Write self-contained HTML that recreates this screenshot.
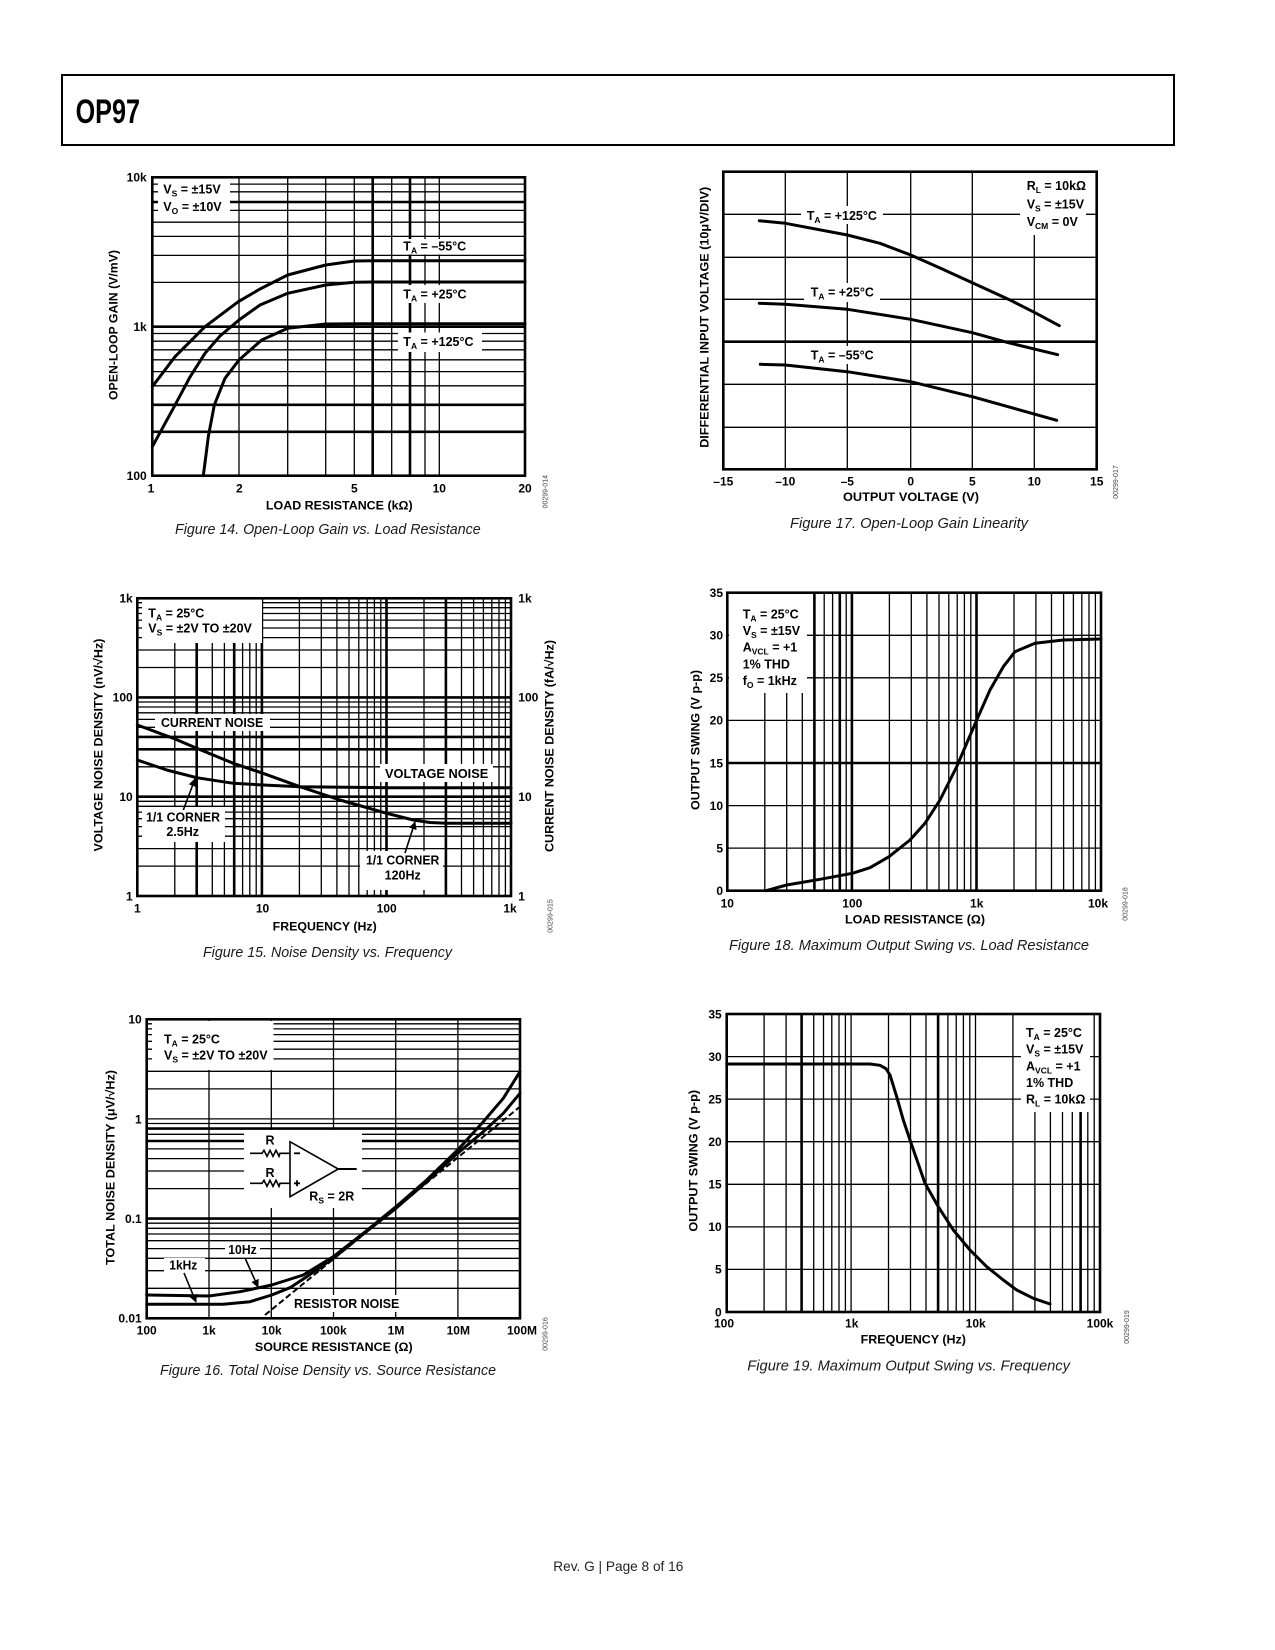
<!DOCTYPE html>
<html><head><meta charset="utf-8"><title>OP97</title>
<style>
html,body{margin:0;padding:0;background:#fff;}
svg{display:block;}
.t{font-family:"Liberation Sans",Arial,sans-serif;font-weight:bold;font-size:12px;fill:#000;}
.l{font-family:"Liberation Sans",Arial,sans-serif;font-weight:bold;font-size:12.5px;fill:#000;}
.cap{font-family:"Liberation Sans",Arial,sans-serif;font-style:italic;font-size:15px;fill:#1a1a1a;}
.id{font-family:"Liberation Sans",Arial,sans-serif;font-size:7px;fill:#444;}
.g{stroke:#000;stroke-width:1.3;fill:none;}
.gk{stroke:#000;stroke-width:2.6;fill:none;}
.fr{stroke:#000;stroke-width:2.6;fill:none;}
.cv{stroke:#000;stroke-width:3;fill:none;stroke-linejoin:round;stroke-linecap:round;}
.wb{fill:#fff;stroke:none;}
</style></head>
<body>
<svg width="1275" height="1650" viewBox="0 0 1275 1650" xmlns="http://www.w3.org/2000/svg">
<defs>
<marker id="ah" viewBox="0 0 10 10" refX="9" refY="5" markerWidth="5" markerHeight="5" orient="auto-start-reverse">
<path d="M0,0 L10,5 L0,10 z" fill="#000"/>
</marker>
</defs>
<rect x="0" y="0" width="1275" height="1650" fill="#fff"/>

<!-- HEADER -->
<rect x="62" y="75" width="1112" height="70" fill="none" stroke="#000" stroke-width="2"/>
<text x="75.6" y="123" font-family="'Liberation Sans Narrow','Liberation Sans',sans-serif" font-weight="bold" font-size="34" textLength="64.4" lengthAdjust="spacingAndGlyphs">OP97</text>

<!-- ================= FIG 14 ================= -->
<path class="g" d="M239,177V476 M287.7,177V476 M325.7,177V476 M354.3,177V476 M391.7,177V476 M425,177V476 M439.3,177V476
M152,184.1H525 M152,191.8H525 M152,210.4H525 M152,222.2H525 M152,236.4H525 M152,255.4H525 M152,282.4H525 M152,333.5H525 M152,341.2H525 M152,349.8H525 M152,359.8H525 M152,371.6H525 M152,385.8H525"/>
<path class="gk" d="M372.7,177V476 M410,177V476 M152,202H525 M152,326.7H525 M152,404.8H525 M152,431.8H525"/>
<rect class="wb" x="158" y="178.5" width="72" height="35.5"/>
<rect class="wb" x="398" y="239" width="76" height="15.5"/>
<rect class="wb" x="398" y="285" width="76" height="18"/>
<rect class="wb" x="398" y="332.5" width="84" height="19.5"/>
<path class="cv" d="M152.3,386.7 L175,356.7 L205,326.7 L238.3,301.7 L260,289 L287.7,275 L325.7,265 L354.3,261 L372.7,260.7 L525,260.7"/>
<path class="cv" d="M152.3,446.7 L173.3,408.3 L190,377 L205,353.3 L220,336 L239,320 L260,305 L287.7,293.3 L325.7,285 L354.3,282.3 L372.7,282 L525,282"/>
<path class="cv" d="M203.3,475.7 L206,455 L208.3,436.7 L214.3,405 L225,378.3 L239,360 L261.7,340 L287.7,328.3 L325.7,324 L360,323.7 L525,323.7"/>
<rect class="fr" x="152.3" y="177.3" width="372.7" height="298.4"/>
<text class="l" x="163.3" y="193.5">V<tspan font-size="8.5" dy="3">S</tspan><tspan dy="-3"> = ±15V</tspan></text>
<text class="l" x="163.3" y="211">V<tspan font-size="8.5" dy="3">O</tspan><tspan dy="-3"> = ±10V</tspan></text>
<text class="l" x="403.3" y="250.5">T<tspan font-size="8.5" dy="3">A</tspan><tspan dy="-3"> = –55°C</tspan></text>
<text class="l" x="403.3" y="298.3">T<tspan font-size="8.5" dy="3">A</tspan><tspan dy="-3"> = +25°C</tspan></text>
<text class="l" x="403.3" y="346">T<tspan font-size="8.5" dy="3">A</tspan><tspan dy="-3"> = +125°C</tspan></text>
<text class="t" x="146.7" y="181.5" text-anchor="end">10k</text>
<text class="t" x="146.7" y="331" text-anchor="end">1k</text>
<text class="t" x="146.7" y="480" text-anchor="end">100</text>
<text class="t" x="151" y="492.5" text-anchor="middle">1</text>
<text class="t" x="239.3" y="492.5" text-anchor="middle">2</text>
<text class="t" x="354.3" y="492.5" text-anchor="middle">5</text>
<text class="t" x="439.3" y="492.5" text-anchor="middle">10</text>
<text class="t" x="525" y="492.5" text-anchor="middle">20</text>
<text class="t" x="339.3" y="509.3" text-anchor="middle" textLength="146.7" lengthAdjust="spacingAndGlyphs">LOAD RESISTANCE (kΩ)</text>
<text class="t" transform="translate(117.6,325) rotate(-90)" text-anchor="middle" textLength="150" lengthAdjust="spacingAndGlyphs">OPEN-LOOP GAIN (V/mV)</text>
<text class="cap" x="175" y="534" textLength="305.7" lengthAdjust="spacingAndGlyphs">Figure 14. Open-Loop Gain vs. Load Resistance</text>
<text class="id" transform="translate(547.5,491.7) rotate(-90)" text-anchor="middle">00299-014</text>

<!-- ================= FIG 17 ================= -->
<path class="g" stroke-width="1.5" d="M785.3,171.7V469.3 M847.3,171.7V469.3 M910.7,171.7V469.3 M972.3,171.7V469.3 M1034.3,171.7V469.3
M723.3,214.3H1096.7 M723.3,257.3H1096.7 M723.3,299.3H1096.7 M723.3,384.3H1096.7 M723.3,427.3H1096.7"/>
<path class="gk" d="M723.3,341.7H1096.7"/>
<rect class="wb" x="801" y="206" width="82" height="18"/>
<rect class="wb" x="804" y="283" width="76" height="19"/>
<rect class="wb" x="804" y="346" width="76" height="18"/>
<rect class="wb" x="1020" y="173" width="66" height="62"/>
<path class="cv" d="M759.3,220.7 L785.3,223.3 L847.3,235 L880,243.3 L910.7,255 L940,268 L972.3,282.7 L1010,300 L1035,312.7 L1059.3,325.7"/>
<path class="cv" d="M759.3,303.3 L785.3,304.3 L847.3,309.3 L910.7,319.3 L972.3,332.7 L1008.3,342.7 L1057.7,354.7"/>
<path class="cv" d="M760.3,364.3 L785.3,365 L847.3,371.7 L910.7,381.7 L972.3,396.7 L1056.7,420.3"/>
<rect class="fr" x="723.3" y="171.7" width="373.4" height="297.6"/>
<text class="l" x="806.7" y="220">T<tspan font-size="8.5" dy="3">A</tspan><tspan dy="-3"> = +125°C</tspan></text>
<text class="l" x="810.7" y="296.7">T<tspan font-size="8.5" dy="3">A</tspan><tspan dy="-3"> = +25°C</tspan></text>
<text class="l" x="810.7" y="359.3">T<tspan font-size="8.5" dy="3">A</tspan><tspan dy="-3"> = –55°C</tspan></text>
<text class="l" x="1026.7" y="190">R<tspan font-size="8.5" dy="3">L</tspan><tspan dy="-3"> = 10kΩ</tspan></text>
<text class="l" x="1026.7" y="208.3">V<tspan font-size="8.5" dy="3">S</tspan><tspan dy="-3"> = ±15V</tspan></text>
<text class="l" x="1026.7" y="226">V<tspan font-size="8.5" dy="3">CM</tspan><tspan dy="-3"> = 0V</tspan></text>
<text class="t" x="723.3" y="485.3" text-anchor="middle">–15</text>
<text class="t" x="785.3" y="485.3" text-anchor="middle">–10</text>
<text class="t" x="847.3" y="485.3" text-anchor="middle">–5</text>
<text class="t" x="910.7" y="485.3" text-anchor="middle">0</text>
<text class="t" x="972.3" y="485.3" text-anchor="middle">5</text>
<text class="t" x="1034.3" y="485.3" text-anchor="middle">10</text>
<text class="t" x="1096.7" y="485.3" text-anchor="middle">15</text>
<text class="t" x="911" y="501" text-anchor="middle" textLength="136" lengthAdjust="spacingAndGlyphs">OUTPUT VOLTAGE (V)</text>
<text class="t" transform="translate(708.6,317.3) rotate(-90)" text-anchor="middle" textLength="261" lengthAdjust="spacingAndGlyphs">DIFFERENTIAL INPUT VOLTAGE (10μV/DIV)</text>
<text class="cap" x="790" y="528" textLength="238" lengthAdjust="spacingAndGlyphs">Figure 17. Open-Loop Gain Linearity</text>
<text class="id" transform="translate(1118.2,482) rotate(-90)" text-anchor="middle">00299-017</text>

<!-- ================= FIG 15 ================= -->
<path class="g" d="M174.8,598V896 M212.3,598V896 M224.4,598V896 M242.6,598V896 M249.8,598V896 M256.2,598V896
M299.4,598V896 M321.3,598V896 M336.9,598V896 M349,598V896 M358.8,598V896 M367.2,598V896 M374.4,598V896 M380.8,598V896
M424,598V896 M461.5,598V896 M473.6,598V896 M483.4,598V896 M491.8,598V896 M499,598V896 M505.4,598V896
M137,866.1H511 M137,848.6H511 M137,836.2H511 M137,826.6H511 M137,818.7H511 M137,812.1H511 M137,806.3H511 M137,801.3H511
M137,766.8H511 M137,727.3H511 M137,719.4H511 M137,712.8H511 M137,707H511 M137,702H511
M137,667.5H511 M137,650H511 M137,637.6H511 M137,628H511 M137,620.1H511 M137,613.5H511 M137,607.7H511 M137,602.7H511"/>
<path class="gk" d="M196.7,598V896 M234.2,598V896 M261.9,598V896 M386.5,598V896 M445.9,598V896
M137,796.7H511 M137,749.3H511 M137,736.9H511 M137,697.4H511"/>
<rect class="wb" x="142" y="599.5" width="120" height="43.5"/>
<rect class="wb" x="155" y="714" width="115" height="17"/>
<rect class="wb" x="380" y="764" width="113" height="18"/>
<rect class="wb" x="142" y="807" width="83" height="35"/>
<rect class="wb" x="360" y="851" width="83" height="39"/>
<path class="cv" d="M137.3,725 L173.3,738.3 L196.7,748.3 L233.3,763.3 L263,773.3 L300,786.7 L340,800 L386.7,813.3 L413.3,820 L430,822.5 L446.7,823.3 L511,823.3"/>
<path class="cv" d="M137.3,760 L166.7,770 L196.7,777.7 L233.3,783.3 L263,785 L300,786.7 L386.7,787.7 L511,787.7"/>
<line x1="183.3" y1="810" x2="195" y2="779" stroke="#000" stroke-width="1.6" marker-end="url(#ah)"/>
<line x1="405" y1="853" x2="415" y2="822" stroke="#000" stroke-width="1.6" marker-end="url(#ah)"/>
<rect class="fr" x="137.3" y="598.3" width="373.7" height="297.7"/>
<text class="l" x="148.3" y="617.7">T<tspan font-size="8.5" dy="3">A</tspan><tspan dy="-3"> = 25°C</tspan></text>
<text class="l" x="148.3" y="632.7">V<tspan font-size="8.5" dy="3">S</tspan><tspan dy="-3"> = ±2V TO ±20V</tspan></text>
<text class="l" x="161" y="727" textLength="102.3" lengthAdjust="spacingAndGlyphs">CURRENT NOISE</text>
<text class="l" x="385" y="778" textLength="103.3" lengthAdjust="spacingAndGlyphs">VOLTAGE NOISE</text>
<text class="l" x="146" y="821.3" textLength="74" lengthAdjust="spacingAndGlyphs">1/1 CORNER</text>
<text class="l" x="182.7" y="836" text-anchor="middle">2.5Hz</text>
<text class="l" x="366" y="864.3" textLength="73.3" lengthAdjust="spacingAndGlyphs">1/1 CORNER</text>
<text class="l" x="402.7" y="879.3" text-anchor="middle">120Hz</text>
<text class="t" x="132.7" y="602.6" text-anchor="end">1k</text>
<text class="t" x="132.7" y="701.7" text-anchor="end">100</text>
<text class="t" x="132.7" y="801" text-anchor="end">10</text>
<text class="t" x="132.7" y="900.3" text-anchor="end">1</text>
<text class="t" x="518.3" y="602.6">1k</text>
<text class="t" x="518.3" y="701.7">100</text>
<text class="t" x="518.3" y="801">10</text>
<text class="t" x="518.3" y="900.3">1</text>
<text class="t" x="137.3" y="912.3" text-anchor="middle">1</text>
<text class="t" x="262.5" y="912.3" text-anchor="middle">10</text>
<text class="t" x="386.7" y="912.3" text-anchor="middle">100</text>
<text class="t" x="510" y="912.3" text-anchor="middle">1k</text>
<text class="t" x="324.7" y="930.3" text-anchor="middle" textLength="104" lengthAdjust="spacingAndGlyphs">FREQUENCY (Hz)</text>
<text class="t" transform="translate(102.6,745) rotate(-90)" text-anchor="middle" textLength="213" lengthAdjust="spacingAndGlyphs">VOLTAGE NOISE DENSITY (nV/√Hz)</text>
<text class="t" transform="translate(553.6,746) rotate(-90)" text-anchor="middle" textLength="212" lengthAdjust="spacingAndGlyphs">CURRENT NOISE DENSITY (fA/√Hz)</text>
<text class="cap" x="203" y="957" textLength="249" lengthAdjust="spacingAndGlyphs">Figure 15. Noise Density vs. Frequency</text>
<text class="id" transform="translate(552.5,916) rotate(-90)" text-anchor="middle">00299-015</text>

<!-- ================= FIG 18 ================= -->
<path class="g" d="M727.3,848.1H1101 M727.3,805.6H1101 M727.3,720.4H1101 M727.3,677.8H1101 M727.3,635.3H1101
M786.7,592.7V890.7 M802.3,592.7V890.7 M824.2,592.7V890.7 M832.6,592.7V890.7 M846.2,592.7V890.7
M889.4,592.7V890.7 M911.3,592.7V890.7 M926.9,592.7V890.7 M939,592.7V890.7 M948.8,592.7V890.7 M957.2,592.7V890.7 M964.4,592.7V890.7 M970.8,592.7V890.7
M1014,592.7V890.7 M1035.9,592.7V890.7 M1051.5,592.7V890.7 M1063.6,592.7V890.7 M1073.4,592.7V890.7 M1081.8,592.7V890.7 M1089,592.7V890.7 M1095.4,592.7V890.7"/>
<path class="g" stroke-width="1.9" d="M764.8,592.7V890.7"/>
<path class="gk" d="M727.3,763H1101 M814.4,592.7V890.7 M839.8,592.7V890.7 M851.9,592.7V890.7 M976.5,592.7V890.7"/>
<rect class="wb" x="729" y="594" width="78" height="99"/>
<path class="cv" d="M766,890.7 L786.7,885 L820,879.3 L852.3,873.3 L870,867.7 L889,856.7 L910,840 L925,823.3 L940,800 L956.7,766.7 L976.7,720 L990,690 L1003.3,666.7 L1015,651.7 L1035,643.3 L1063.3,640 L1101,639"/>
<rect class="fr" x="727.3" y="592.7" width="373.7" height="298"/>
<text class="l" x="742.7" y="618.3">T<tspan font-size="8.5" dy="3">A</tspan><tspan dy="-3"> = 25°C</tspan></text>
<text class="l" x="742.7" y="635">V<tspan font-size="8.5" dy="3">S</tspan><tspan dy="-3"> = ±15V</tspan></text>
<text class="l" x="742.7" y="651.7">A<tspan font-size="8.5" dy="3">VCL</tspan><tspan dy="-3"> = +1</tspan></text>
<text class="l" x="742.7" y="668.3">1% THD</text>
<text class="l" x="742.7" y="685">f<tspan font-size="8.5" dy="3">O</tspan><tspan dy="-3"> = 1kHz</tspan></text>
<text class="t" x="723" y="597" text-anchor="end">35</text>
<text class="t" x="723" y="639.6" text-anchor="end">30</text>
<text class="t" x="723" y="682.1" text-anchor="end">25</text>
<text class="t" x="723" y="724.7" text-anchor="end">20</text>
<text class="t" x="723" y="767.3" text-anchor="end">15</text>
<text class="t" x="723" y="809.9" text-anchor="end">10</text>
<text class="t" x="723" y="852.4" text-anchor="end">5</text>
<text class="t" x="723" y="895" text-anchor="end">0</text>
<text class="t" x="727.3" y="907.6" text-anchor="middle">10</text>
<text class="t" x="852.3" y="907.6" text-anchor="middle">100</text>
<text class="t" x="976.7" y="907.6" text-anchor="middle">1k</text>
<text class="t" x="1098" y="907.6" text-anchor="middle">10k</text>
<text class="t" x="915" y="923.3" text-anchor="middle" textLength="140" lengthAdjust="spacingAndGlyphs">LOAD RESISTANCE (Ω)</text>
<text class="t" transform="translate(699.3,740) rotate(-90)" text-anchor="middle" textLength="140" lengthAdjust="spacingAndGlyphs">OUTPUT SWING (V p-p)</text>
<text class="cap" x="729" y="950" textLength="360" lengthAdjust="spacingAndGlyphs">Figure 18. Maximum Output Swing vs. Load Resistance</text>
<text class="id" transform="translate(1127.5,904) rotate(-90)" text-anchor="middle">00299-018</text>

<!-- ================= FIG 16 ================= -->
<path class="g" d="M209,1019.3V1318.3 M271.3,1019.3V1318.3 M333.5,1019.3V1318.3 M395.7,1019.3V1318.3 M457.9,1019.3V1318.3
M146.7,1288.3H520 M146.7,1270.7H520 M146.7,1258.3H520 M146.7,1248.6H520 M146.7,1240.7H520 M146.7,1234H520 M146.7,1228.3H520 M146.7,1223.2H520
M146.7,1188.6H520 M146.7,1171H520 M146.7,1158.6H520 M146.7,1148.9H520 M146.7,1134.3H520 M146.7,1123.5H520 M146.7,1118.9H520
M146.7,1088.9H520 M146.7,1071.3H520 M146.7,1058.9H520 M146.7,1049.2H520 M146.7,1041.3H520 M146.7,1034.6H520 M146.7,1028.9H520 M146.7,1023.8H520"/>
<path class="gk" d="M146.7,1218.6H520 M146.7,1141H520 M146.7,1128.6H520"/>
<rect class="wb" x="152" y="1021" width="121.5" height="49"/>
<rect class="wb" x="244" y="1130" width="118" height="78"/>
<rect class="wb" x="225" y="1243" width="35" height="14"/>
<rect class="wb" x="164" y="1258" width="41" height="15"/>
<rect class="wb" x="290" y="1295" width="112" height="17"/>
<!-- circuit -->
<g stroke="#000" stroke-width="1.6" fill="none">
<path d="M250,1153.3 H262 l2,-3 l3,6 l3,-6 l3,6 l3,-6 l3,6 l1,-3 H290"/>
<path d="M250,1183.3 H262 l2,-3 l3,6 l3,-6 l3,6 l3,-6 l3,6 l1,-3 H290"/>
<path d="M290,1141.7 L290,1196.7 L338.3,1169 Z"/>
<path d="M338.3,1169 H356.7" stroke-width="2"/>
<path d="M294,1153.3 H300" stroke-width="1.8"/>
<path d="M294,1183.3 H300 M297,1180.3 V1186.3" stroke-width="1.8"/>
</g>
<text class="l" x="270" y="1144.3" text-anchor="middle" font-size="12">R</text>
<text class="l" x="270" y="1177" text-anchor="middle" font-size="12">R</text>
<text class="l" x="309.3" y="1200.3">R<tspan font-size="8.5" dy="3">S</tspan><tspan dy="-3"> = 2R</tspan></text>
<path class="cv" d="M146.7,1295 L209,1296 L240,1291.7 L271.7,1285 L303.3,1275 L333.3,1256.7 L363.3,1233.3 L396,1206.7 L426.7,1180 L458.3,1149.3 L483.3,1121.7 L503.3,1098.3 L520,1071.7"/>
<path class="cv" stroke-width="2.6" d="M146.7,1304.3 L223.3,1304.3 L250,1301.7 L271.7,1295 L290,1287.7 L306.7,1276.7 L333.3,1258.3 L363.3,1234 L396,1208.3 L426.7,1181.7 L458.3,1152.7 L483.3,1131.7 L503.3,1113.3 L520,1093.3"/>
<path d="M265,1315 L520,1106.7" stroke="#000" stroke-width="2" stroke-dasharray="6,3" fill="none"/>
<line x1="184" y1="1273" x2="196" y2="1302" stroke="#000" stroke-width="1.6" marker-end="url(#ah)"/>
<line x1="245" y1="1258" x2="258" y2="1287" stroke="#000" stroke-width="1.6" marker-end="url(#ah)"/>
<rect class="fr" x="146.7" y="1019.3" width="373.3" height="299"/>
<text class="l" x="164" y="1043.7">T<tspan font-size="8.5" dy="3">A</tspan><tspan dy="-3"> = 25°C</tspan></text>
<text class="l" x="164" y="1059.3">V<tspan font-size="8.5" dy="3">S</tspan><tspan dy="-3"> = ±2V TO ±20V</tspan></text>
<text class="l" x="228.3" y="1254" textLength="28.4" lengthAdjust="spacingAndGlyphs">10Hz</text>
<text class="l" x="169.3" y="1269.7" textLength="28" lengthAdjust="spacingAndGlyphs">1kHz</text>
<text class="l" x="294" y="1308" textLength="105.3" lengthAdjust="spacingAndGlyphs">RESISTOR NOISE</text>
<text class="t" x="141.7" y="1023.6" text-anchor="end">10</text>
<text class="t" x="141.7" y="1123.3" text-anchor="end">1</text>
<text class="t" x="141.7" y="1223" text-anchor="end">0.1</text>
<text class="t" x="141.7" y="1322.6" text-anchor="end">0.01</text>
<text class="t" x="146.7" y="1334.3" text-anchor="middle">100</text>
<text class="t" x="209" y="1334.3" text-anchor="middle">1k</text>
<text class="t" x="271.7" y="1334.3" text-anchor="middle">10k</text>
<text class="t" x="333.3" y="1334.3" text-anchor="middle">100k</text>
<text class="t" x="396" y="1334.3" text-anchor="middle">1M</text>
<text class="t" x="458.3" y="1334.3" text-anchor="middle">10M</text>
<text class="t" x="522" y="1334.3" text-anchor="middle">100M</text>
<text class="t" x="333.8" y="1351" text-anchor="middle" textLength="157.7" lengthAdjust="spacingAndGlyphs">SOURCE RESISTANCE (Ω)</text>
<text class="t" transform="translate(114.3,1167.5) rotate(-90)" text-anchor="middle" textLength="195" lengthAdjust="spacingAndGlyphs">TOTAL NOISE DENSITY (μV/√Hz)</text>
<text class="cap" x="160" y="1375" textLength="336" lengthAdjust="spacingAndGlyphs">Figure 16. Total Noise Density vs. Source Resistance</text>
<text class="id" transform="translate(547.5,1334) rotate(-90)" text-anchor="middle">00299-016</text>

<!-- ================= FIG 19 ================= -->
<path class="g" d="M726.7,1269.4H1100 M726.7,1226.9H1100 M726.7,1184.3H1100 M726.7,1141.7H1100 M726.7,1099.1H1100 M726.7,1056.6H1100
M764.1,1014V1312 M786.1,1014V1312 M813.7,1014V1312 M823.5,1014V1312 M831.8,1014V1312 M839,1014V1312 M845.4,1014V1312 M851.1,1014V1312
M888.5,1014V1312 M910.5,1014V1312 M926,1014V1312 M947.9,1014V1312 M956.2,1014V1312 M963.4,1014V1312 M969.8,1014V1312 M975.5,1014V1312
M1012.9,1014V1312 M1034.9,1014V1312 M1050.4,1014V1312 M1062.5,1014V1312 M1072.3,1014V1312 M1087.8,1014V1312 M1094.2,1014V1312"/>
<path class="gk" d="M801.6,1014V1312 M938.1,1014V1312 M1080.6,1014V1312"/>
<rect class="wb" x="1021" y="1015" width="69" height="97"/>
<path class="cv" stroke-width="3.4" d="M726.7,1064 L870,1064 L880,1065.3 L886,1068.7 L890,1075 L896.7,1096.7 L903.3,1120 L910,1140 L925,1183.3 L938.3,1206.7 L953.3,1230 L970,1250 L986.7,1266.7 L1003.3,1280 L1016.7,1290 L1033.3,1298.3 L1050,1304"/>
<rect class="fr" x="726.7" y="1014" width="373.3" height="298"/>
<text class="l" x="1026" y="1037">T<tspan font-size="8.5" dy="3">A</tspan><tspan dy="-3"> = 25°C</tspan></text>
<text class="l" x="1026" y="1053.7">V<tspan font-size="8.5" dy="3">S</tspan><tspan dy="-3"> = ±15V</tspan></text>
<text class="l" x="1026" y="1070.3">A<tspan font-size="8.5" dy="3">VCL</tspan><tspan dy="-3"> = +1</tspan></text>
<text class="l" x="1026" y="1087">1% THD</text>
<text class="l" x="1026" y="1103.7">R<tspan font-size="8.5" dy="3">L</tspan><tspan dy="-3"> = 10kΩ</tspan></text>
<text class="t" x="721.7" y="1018.3" text-anchor="end">35</text>
<text class="t" x="721.7" y="1060.9" text-anchor="end">30</text>
<text class="t" x="721.7" y="1103.4" text-anchor="end">25</text>
<text class="t" x="721.7" y="1146" text-anchor="end">20</text>
<text class="t" x="721.7" y="1188.6" text-anchor="end">15</text>
<text class="t" x="721.7" y="1231.2" text-anchor="end">10</text>
<text class="t" x="721.7" y="1273.7" text-anchor="end">5</text>
<text class="t" x="721.7" y="1316.3" text-anchor="end">0</text>
<text class="t" x="724" y="1327.6" text-anchor="middle">100</text>
<text class="t" x="851.7" y="1327.6" text-anchor="middle">1k</text>
<text class="t" x="975.7" y="1327.6" text-anchor="middle">10k</text>
<text class="t" x="1100" y="1327.6" text-anchor="middle">100k</text>
<text class="t" x="913.3" y="1343.7" text-anchor="middle" textLength="105.3" lengthAdjust="spacingAndGlyphs">FREQUENCY (Hz)</text>
<text class="t" transform="translate(697.6,1160.8) rotate(-90)" text-anchor="middle" textLength="141.7" lengthAdjust="spacingAndGlyphs">OUTPUT SWING (V p-p)</text>
<text class="cap" x="747.3" y="1370.7" textLength="322.7" lengthAdjust="spacingAndGlyphs">Figure 19. Maximum Output Swing vs. Frequency</text>
<text class="id" transform="translate(1129.2,1327) rotate(-90)" text-anchor="middle">00299-019</text>

<!-- FOOTER -->
<text x="553.3" y="1571" font-family="'Liberation Sans',Arial,sans-serif" font-size="14" fill="#222" textLength="130" lengthAdjust="spacingAndGlyphs">Rev. G | Page 8 of 16</text>
</svg>
</body></html>
